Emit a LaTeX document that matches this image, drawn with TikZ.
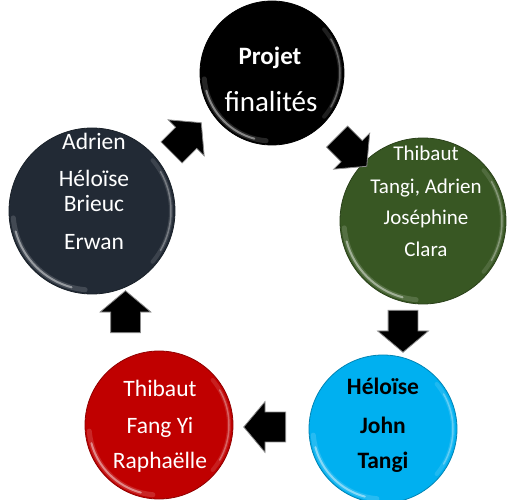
\documentclass[tikz,border=0pt]{standalone}
\usepackage{fontspec}
\setmainfont{Carlito}
\usetikzlibrary{shapes.arrows,calc}

\definecolor{bubTop}{HTML}{000000}
\definecolor{bubGreen}{HTML}{385723}
\definecolor{bubCyan}{HTML}{00B0F0}
\definecolor{bubRed}{HTML}{C00000}
\definecolor{bubSlate}{HTML}{222A35}

\tikzset{
  bubble/.style={circle, inner sep=0pt, fill=#1, draw=#1!75!black, line width=0.8pt},
  blockarrow/.style={single arrow, fill=black, draw=black!45, line width=0.8pt,
    inner xsep=0pt, inner ysep=14.5pt, minimum height=42pt,
    single arrow head extend=10.5pt, single arrow tip angle=100,
    single arrow head indent=0pt},
  lbl/.style={anchor=base, inner sep=0pt, text=white},
  big/.style={font=\fontsize{23.5}{28}\selectfont},
  bigbold/.style={font=\fontsize{23.5}{28}\selectfont\bfseries},
  shine/.style={white, line cap=round},
}

% glossy rim on a bubble: node name, inner radius
\newcommand\glossring[2]{%
  \draw[shine, line width=5pt, opacity=0.15] ([shift={(95:#2)}]#1.center) arc[start angle=95, end angle=175, radius=#2];
  \draw[shine, line width=2pt, opacity=0.45] ([shift={(105:#2)}]#1.center) arc[start angle=105, end angle=165, radius=#2];
  \draw[shine, line width=4pt, opacity=0.12] ([shift={(-40:#2)}]#1.center) arc[start angle=-40, end angle=40, radius=#2];
  \draw[shine, line width=1.5pt, opacity=0.3] ([shift={(-30:#2)}]#1.center) arc[start angle=-30, end angle=30, radius=#2];
}

\begin{document}
\begin{tikzpicture}[x=1pt, y=-1pt]
\useasboundingbox[fill=white] (0,0) rectangle (507,500);

% bubbles
\node[bubble=bubTop,   minimum size=144pt] (top)   at (272,73)  {};
\node[bubble=bubGreen, minimum size=166pt] (green) at (423,221) {};
\node[bubble=bubCyan,  minimum size=148pt] (cyan)  at (383,429) {};
\node[bubble=bubRed,   minimum size=148pt] (red)   at (159,425) {};
\node[bubble=bubSlate, minimum size=166pt] (slate) at (92,211)  {};

\glossring{top}{68}
\glossring{green}{79}
\glossring{cyan}{70}
\glossring{red}{70}
\glossring{slate}{79}

% block arrows between the bubbles
\node[blockarrow, rotate=-45] (a1) at ($(top)!0.5!(green)$) {};
\node[blockarrow, rotate=-90] (a2) at ($(green)!0.5!(cyan)$) {};
\node[blockarrow, rotate=180] (a3) at ($(cyan)!0.5!(red)$) {};
\node[blockarrow, rotate=90]  (a4) at ($(red)!0.5!(slate)$) {};
\node[blockarrow, rotate=45]  (a5) at ($(slate)!0.5!(top)$) {};

% texts
\node[lbl, font=\fontsize{25}{30}\selectfont\bfseries] (t1) at (270,65) {Projet};
\node[lbl, font=\fontsize{29}{34}\selectfont] (t2) at (271,112) {finalités};

\node[lbl, font=\fontsize{21}{25}\selectfont] (g1) at (426,161) {Thibaut};
\node[lbl, font=\fontsize{21}{25}\selectfont] (g2) at (426,194) {Tangi, Adrien};
\node[lbl, font=\fontsize{21}{25}\selectfont] (g3) at (426,225) {Joséphine};
\node[lbl, font=\fontsize{21}{25}\selectfont] (g4) at (426,257) {Clara};

\node[lbl, bigbold, text=black] (c1) at (383,395) {Héloïse};
\node[lbl, bigbold, text=black] (c2) at (383,433) {John};
\node[lbl, bigbold, text=black] (c3) at (383,468) {Tangi};

\node[lbl, big] (r1) at (160,396) {Thibaut};
\node[lbl, big] (r2) at (160,433) {Fang Yi};
\node[lbl, big] (r3) at (160,468) {Raphaëlle};

\node[lbl, big] (s1) at (94,150) {Adrien};
\node[lbl, big] (s2) at (94,187) {Héloïse};
\node[lbl, big] (s3) at (94,212) {Brieuc};
\node[lbl, big] (s4) at (94,250) {Erwan};
\end{tikzpicture}
\end{document}
